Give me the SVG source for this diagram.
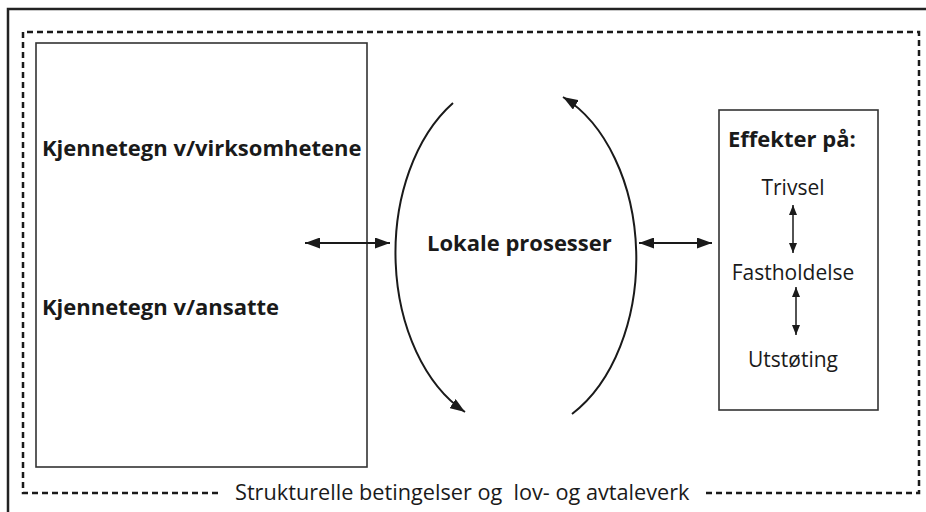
<svg xmlns="http://www.w3.org/2000/svg" width="926" height="512" viewBox="0 0 926 512">
<defs>
<style>
.b{font-family:"Open Sans","Liberation Sans",sans-serif;font-weight:bold;font-size:22px;fill:#1a1a1a}
.r{font-family:"Open Sans","Liberation Sans",sans-serif;font-size:21px;fill:#1a1a1a}
.box{fill:#fff;stroke:#333;stroke-width:1.6}
.ln{fill:none;stroke:#1a1a1a;stroke-width:2}
.sm{fill:none;stroke:#1a1a1a;stroke-width:1.5}
</style>
<marker id="ah" viewBox="0 0 15 11" refX="15" refY="5.5" markerWidth="15" markerHeight="11" markerUnits="userSpaceOnUse" orient="auto-start-reverse"><path d="M0,0 L15,5.5 L0,11 z" fill="#1a1a1a"/></marker>
<marker id="as" viewBox="0 0 10 8" refX="10" refY="4" markerWidth="10" markerHeight="8" markerUnits="userSpaceOnUse" orient="auto-start-reverse"><path d="M0,0 L10,4 L0,8 z" fill="#1a1a1a"/></marker>
</defs>
<rect width="926" height="512" fill="#fff"/>
<g id="frame">
<path d="M8,512 V9 H926" fill="none" stroke="#222" stroke-width="2.5"/>
<path d="M218,493 H23 V32 H919 V493 H706" fill="none" stroke="#1a1a1a" stroke-width="2.5" stroke-dasharray="6 4"/>
<text class="r" x="235" y="500" style="white-space:pre;font-size:21.7px">Strukturelle betingelser og  lov- og avtaleverk</text>
</g>
<g id="kjennetegn">
<rect class="box" x="36" y="43" width="331" height="424"/>
<text class="b" x="42" y="156">Kjennetegn v/virksomhetene</text>
<text class="b" x="42" y="315">Kjennetegn v/ansatte</text>
</g>
<g id="lokale">
<text class="b" x="427" y="251">Lokale prosesser</text>
</g>
<g id="effekter">
<rect class="box" x="719" y="110" width="159" height="300"/>
<text class="b" x="728" y="147">Effekter på:</text>
<text class="r" x="793" y="195" text-anchor="middle">Trivsel</text>
<text class="r" x="793" y="280" text-anchor="middle">Fastholdelse</text>
<text class="r" x="793" y="367" text-anchor="middle">Utstøting</text>
</g>
<g id="connectors">
<path class="ln" d="M305,243 H390" marker-start="url(#ah)" marker-end="url(#ah)"/>
<path class="ln" d="M639,243 H712" marker-start="url(#ah)" marker-end="url(#ah)"/>
<path class="ln" d="M453,103 A119,175 0 0 0 465,412" marker-end="url(#ah)"/>
<path class="ln" d="M572,414 A119,175 0 0 0 563,97" marker-end="url(#ah)"/>
<path class="sm" d="M793,205 V253" marker-start="url(#as)" marker-end="url(#as)"/>
<path class="sm" d="M796,287 V335" marker-start="url(#as)" marker-end="url(#as)"/>
</g>
</svg>
